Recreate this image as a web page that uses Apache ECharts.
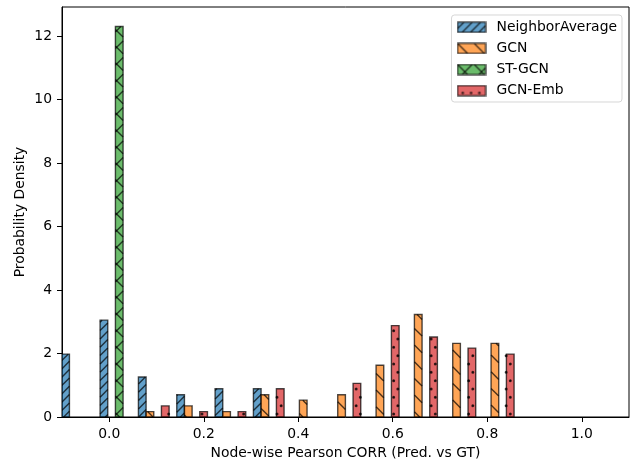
<!DOCTYPE html>
<html><head><meta charset="utf-8">
<script src="https://cdn.jsdelivr.net/npm/echarts@6/dist/echarts.min.js"></script>
<style>html,body{margin:0;padding:0;background:#fff}#c{width:631px;height:464px}</style>
</head><body><div id="c"></div>
<script>
// ---- data ----
const binEdges = [-0.1086, -0.0275, 0.0536, 0.1348, 0.2159, 0.2970, 0.3781, 0.4592, 0.5404, 0.6215, 0.7026, 0.7837, 0.8649];
const seriesNames = ['NeighborAverage', 'GCN', 'ST-GCN', 'GCN-Emb'];
const neighborAverage = [1.98, 3.05, 1.26, 0.70, 0.89, 0.89, 0, 0, 0, 0, 0, 0];
const gcn = [0, 0, 0.17, 0.35, 0.17, 0.70, 0.53, 0.70, 1.63, 3.23, 2.32, 2.32];
const stGcn = [0, 12.3, 0, 0, 0, 0, 0, 0, 0, 0, 0, 0];
const gcnEmb = [0, 0, 0.35, 0.17, 0.17, 0.89, 0, 1.06, 2.88, 2.52, 2.17, 1.98];
const xTicks = [0, 0.2, 0.4, 0.6, 0.8, 1.0];
const xTickLabels = ['0.0', '0.2', '0.4', '0.6', '0.8', '1.0'];
const yTicks = [0, 2, 4, 6, 8, 10, 12];
const yTickLabels = ['0', '2', '4', '6', '8', '10', '12'];

// ---- styles ----
const FONT = 'DejaVu Sans';
const FS = 13.9;
const EDGE = 'rgba(0,0,0,0.7)';
const LW = 1.39;
const fills = ['rgba(31,119,180,0.7)', 'rgba(255,127,14,0.7)', 'rgba(44,160,44,0.7)', 'rgba(214,39,40,0.7)'];
const hatches = ['//', '\\', 'x', '..'];
const allValues = [neighborAverage, gcn, stGcn, gcnEmb];
const CH = 464;
const PHX = 2; // hatch pattern phase

function cnt(s, ch) { return s.split(ch).length - 1; }

function hatchShapes(hatch, x0, y0, x1, y1, H) {
  const dpi = 100, lines = [], dots = [];
  const nNE = (cnt(hatch, '/') + cnt(hatch, 'x')) * 6;
  const nSE = (cnt(hatch, '\\') + cnt(hatch, 'x')) * 6;
  const nDot = cnt(hatch, '.') * 6;
  if (nNE) {
    const s = dpi / nNE;
    const m0 = Math.ceil((x0 + y0 - H) / s) - 1, m1 = Math.floor((x1 + y1 - H) / s) + 1;
    for (let m = m0; m <= m1; m++) {
      const c = m * s + H;
      const xa = Math.max(x0, c - y1), xb = Math.min(x1, c - y0);
      if (xb > xa) lines.push([xa, c - xa, xb, c - xb]);
    }
  }
  if (nSE) {
    const s = dpi / nSE;
    const m0 = Math.floor((x0 - y1 + H) / s) - 1, m1 = Math.ceil((x1 - y0 + H) / s) + 1;
    for (let m = m0; m <= m1; m++) {
      const c = m * s - H;
      const xa = Math.max(x0, y0 + c), xb = Math.min(x1, y1 + c);
      if (xb > xa) lines.push([xa, xa - c, xb, xb - c]);
    }
  }
  if (nDot) {
    const off = dpi / nDot, r = 0.1 * off;
    const i0 = Math.max(0, Math.ceil((H - y1) / off)), i1 = Math.floor((H - y0) / off);
    for (let i = i0; i <= i1; i++) {
      const y = H - i * off;
      const sh = ((i % 2) ? 0.5 * off : 0) + PHX;
      const j0 = Math.ceil((x0 - sh) / off) - 1, j1 = Math.floor((x1 - sh) / off) + 1;
      for (let j = j0; j <= j1; j++) {
        const x = j * off + sh;
        if (x >= x0 - 0.3 && x <= x1 + 0.3 && y >= y0 + 0.5 && y <= y1) dots.push([x, y, r]);
      }
    }
  }
  return { lines, dots };
}

function makeRenderItem(si) {
  return function (params, api) {
    const left = api.value(0), right = api.value(1), v = api.value(2);
    const w = right - left;
    const bl = left + w * (0.1 + 0.2 * si);
    const br = bl + w * 0.2;
    const p0 = api.coord([bl, v]);
    const p1 = api.coord([br, 0]);
    const x0 = p0[0], y0 = p0[1], x1 = p1[0], y1 = p1[1];
    const children = [{
      type: 'rect', shape: { x: x0, y: y0, width: x1 - x0, height: y1 - y0 },
      style: { fill: fills[si], stroke: null }
    }];
    const hs = hatchShapes(hatches[si], x0, y0, x1, y1, CH);
    hs.lines.forEach(l => children.push({
      type: 'line', shape: { x1: l[0], y1: l[1], x2: l[2], y2: l[3] },
      style: { stroke: EDGE, lineWidth: LW, fill: null }
    }));
    hs.dots.forEach(d => children.push({
      type: 'circle', shape: { cx: d[0], cy: d[1], r: d[2] },
      style: { fill: EDGE, stroke: EDGE, lineWidth: LW }
    }));
    children.push({
      type: 'rect', shape: { x: x0, y: y0, width: x1 - x0, height: y1 - y0 },
      style: { fill: null, stroke: EDGE, lineWidth: LW }
    });
    return { type: 'group', children };
  };
}

function legendIcon(si) {
  const cv = document.createElement('canvas');
  cv.width = 30; cv.height = 12;
  const ctx = cv.getContext('2d');
  const x0 = 1, y0 = 1, x1 = 29, y1 = 11;
  ctx.fillStyle = fills[si];
  ctx.fillRect(x0, y0, x1 - x0, y1 - y0);
  const hs = hatchShapes(hatches[si], x0, y0, x1, y1, 100);
  ctx.strokeStyle = EDGE; ctx.lineWidth = LW; ctx.fillStyle = EDGE;
  ctx.save(); ctx.beginPath(); ctx.rect(x0, y0, x1 - x0, y1 - y0); ctx.clip();
  hs.lines.forEach(l => { ctx.beginPath(); ctx.moveTo(l[0], l[1]); ctx.lineTo(l[2], l[3]); ctx.stroke(); });
  hs.dots.forEach(d => { ctx.beginPath(); ctx.arc(d[0], d[1], d[2] + 0.5, 0, Math.PI * 2); ctx.fill(); });
  ctx.restore();
  ctx.strokeRect(x0, y0, x1 - x0, y1 - y0);
  return 'image://' + cv.toDataURL();
}

const series = seriesNames.map((name, si) => ({
  name, type: 'custom', clip: true,
  dimensions: ['left', 'right', 'density'],
  encode: { x: [0, 1], y: 2 },
  itemStyle: { color: fills[si] },
  renderItem: makeRenderItem(si),
  data: allValues[si].map((v, k) => [binEdges[k], binEdges[k + 1], v]).filter(d => d[2] > 0)
}));

function lookup(ticks, labels, v) {
  const i = ticks.findIndex(t => Math.abs(t - v) < 1e-9);
  return i >= 0 ? labels[i] : '';
}

const chart = echarts.init(document.getElementById('c'), null, { renderer: 'canvas' });
chart.setOption({
  animation: false,
  backgroundColor: '#fff',
  textStyle: { fontFamily: FONT },
  grid: { left: 62, right: 2, top: 7, bottom: 47, containLabel: false, outerBoundsMode: 'none',
    show: true, borderColor: '#000', borderWidth: 1, backgroundColor: 'transparent' },
  legend: {
    orient: 'vertical', right: 9, top: 15,
    padding: [5.3, 5, 4.4, 5],
    itemWidth: 30, itemHeight: 12, itemGap: 7.1,
    backgroundColor: 'rgba(255,255,255,0.8)',
    borderColor: 'rgba(204,204,204,0.8)', borderWidth: 1, borderRadius: 3,
    textStyle: { fontFamily: FONT, fontSize: FS, color: '#000', lineHeight: 14, padding: [0, 0, 0, 5] },
    data: seriesNames.map((n, si) => ({ name: n, icon: legendIcon(si) })),
    selectedMode: false
  },
  xAxis: {
    type: 'value', min: -0.1, max: 1.1,
    name: 'Node-wise Pearson CORR (Pred. vs GT)', nameLocation: 'middle', nameGap: 29.5,
    nameMoveOverlap: false,
    nameTextStyle: { fontFamily: FONT, fontSize: FS, color: '#000' },
    axisLine: { show: true, onZero: false, lineStyle: { color: '#000', width: 1 } },
    axisTick: { show: true, customValues: xTicks, length: 5, lineStyle: { color: '#000', width: 1 } },
    axisLabel: { customValues: xTicks, margin: 10, fontFamily: FONT, fontSize: FS, color: '#000',
      formatter: v => lookup(xTicks, xTickLabels, v) },
    splitLine: { show: false }
  },
  yAxis: {
    type: 'value', min: 0, max: 12.915,
    name: 'Probability Density', nameLocation: 'middle', nameGap: 34.5, nameRotate: 90,
    nameMoveOverlap: false,
    nameTextStyle: { fontFamily: FONT, fontSize: FS, color: '#000' },
    axisLine: { show: true, onZero: false, lineStyle: { color: '#000', width: 1 } },
    axisTick: { show: true, customValues: yTicks, length: 5, lineStyle: { color: '#000', width: 1 } },
    axisLabel: { customValues: yTicks, margin: 10, fontFamily: FONT, fontSize: FS, color: '#000',
      formatter: v => lookup(yTicks, yTickLabels, v) },
    splitLine: { show: false }
  },
  series
});
</script>
</body></html>
